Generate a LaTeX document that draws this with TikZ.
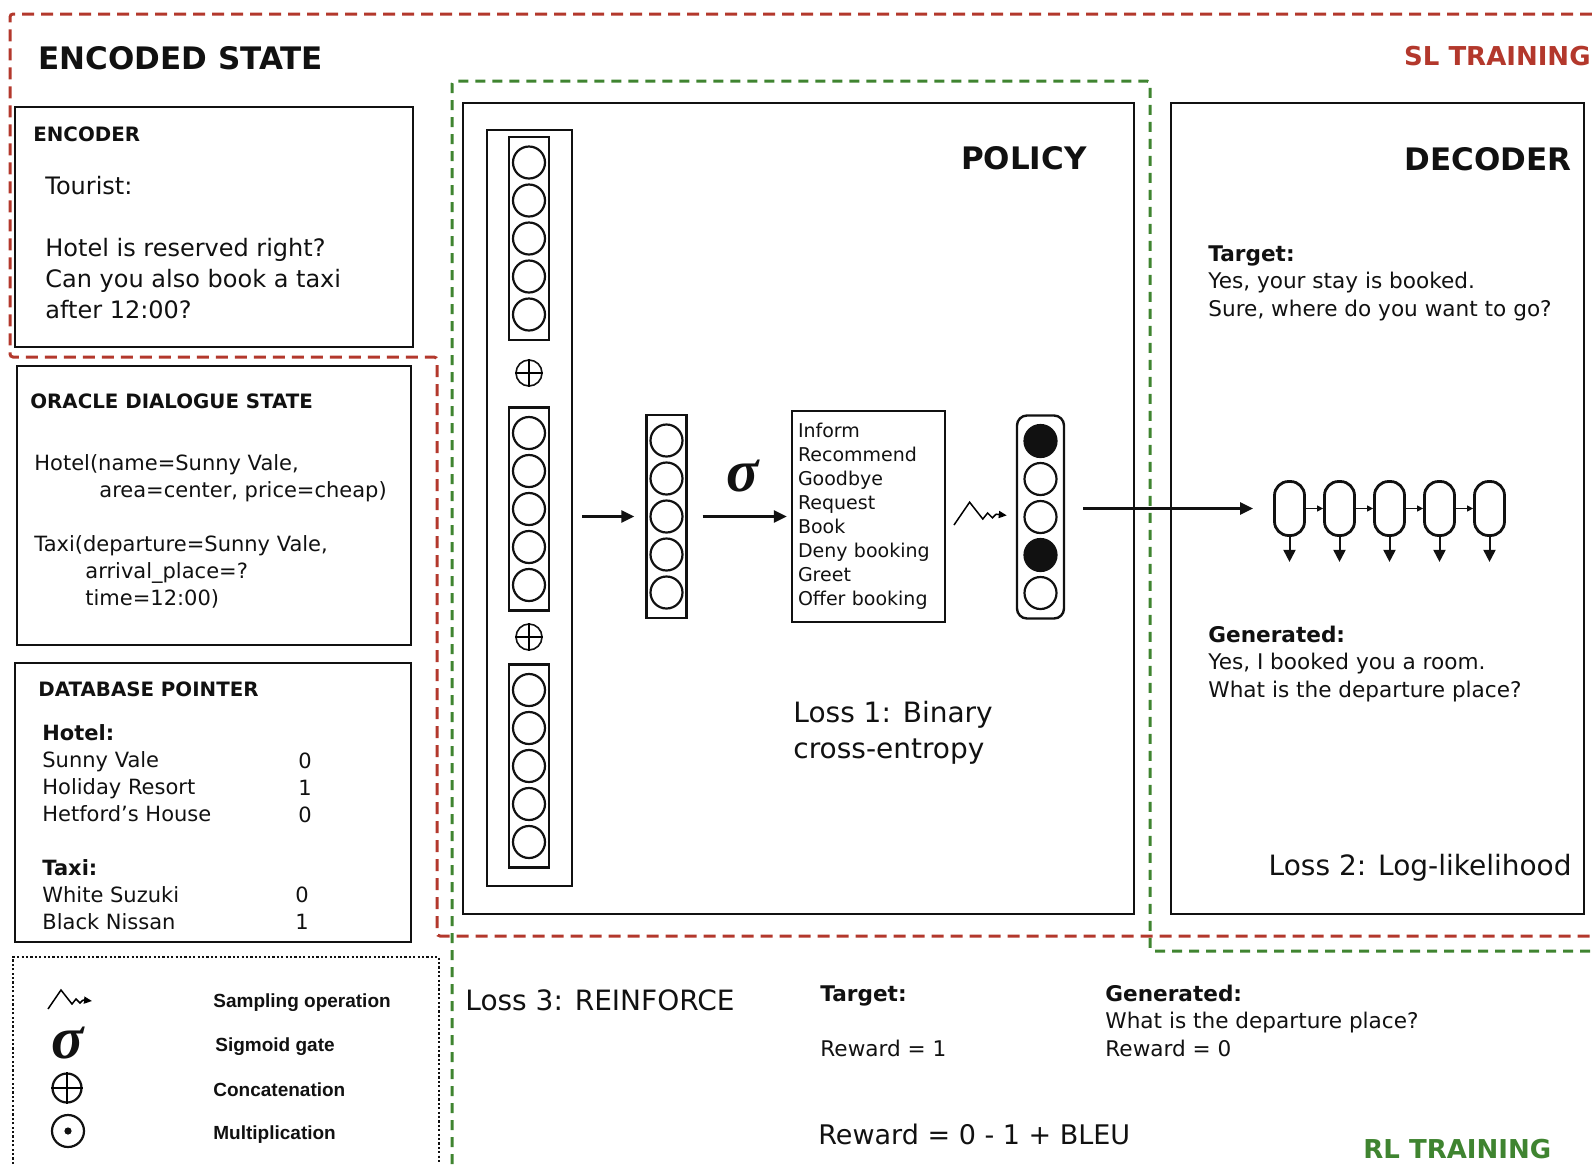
\documentclass[tikz,border=0pt]{standalone}
\usepackage{fontspec}
\setmainfont{DejaVu Sans}
\newfontfamily\keyfont{Liberation Sans}
\newfontfamily\greekfont{Liberation Serif}
\usetikzlibrary{arrows.meta,positioning,calc}
\definecolor{ink}{HTML}{111111}
\definecolor{slred}{HTML}{B3382C}
\definecolor{rlgreen}{HTML}{3F8430}
\tikzset{
  panel/.style={draw=ink, line width=1.4pt},
  sldash/.style={draw=slred, line width=1.5pt, dash pattern=on 6pt off 3.5pt, rounded corners=1.5pt},
  rldash/.style={draw=rlgreen, line width=1.5pt, dash pattern=on 5pt off 3.5pt, rounded corners=1.5pt},
  keyline/.style={draw=ink, line width=1.1pt, dash pattern=on 1.1pt off 1.1pt},
  heading/.style={inner sep=0, text=ink, font=\fontsize{15.5}{18}\selectfont\bfseries},
  tagline/.style={inner sep=0, font=\fontsize{13}{15}\selectfont\bfseries},
  boxtitle/.style={inner sep=0, anchor=base west, text=ink, font=\fontsize{9.9}{12}\selectfont\bfseries},
  bodytext/.style={inner sep=0, anchor=base west, align=left, text=ink, font=\fontsize{10.5}{13.5}\selectfont},
  saytext/.style={bodytext, font=\fontsize{10.8}{13.75}\selectfont},
  losstext/.style={inner sep=0, align=left, text=ink, font=\fontsize{14}{18}\selectfont},
  keytext/.style={inner sep=0, anchor=base west, text=ink, font=\keyfont\fontsize{9.5}{11}\selectfont\bfseries},
  sigma/.style={inner sep=0, text=ink, font=\greekfont\bfseries\itshape\fontsize{30}{30}\selectfont},
  vecbox/.style={draw=ink, line width=1.2pt, minimum width=20pt, minimum height=101.5pt, inner sep=0},
  unit/.style={circle, draw=ink, line width=1.1pt, minimum size=16pt, inner sep=0},
  fired/.style={unit, fill=ink},
  concat/.style={circle, draw=ink, line width=0.8pt, minimum size=13pt, inner sep=0},
  flowarrow/.style={-{Triangle[length=6.5pt,width=6pt]}, line width=1.3pt, draw=ink},
  linkarrow/.style={-{Triangle[length=3pt,width=3pt]}, line width=0.6pt, draw=ink},
  outarrow/.style={-{Triangle[length=6pt,width=6pt]}, line width=1pt, draw=ink},
  cellbox/.style={draw=ink, line width=1.4pt, rounded corners=7pt, minimum width=15pt, minimum height=27pt, inner sep=0},
  sampler/.pic={
    \draw[line width=0.75pt] (0,0) -- (13,-19) -- (24,-5) -- (28,-10) -- (32,-6) -- (35,-9);
    \draw[line width=0.75pt, -{Triangle[length=4pt,width=3.5pt]}] (35,-9) -- (44,-8);
  }
}

\begin{document}
\begin{tikzpicture}[x=0.5pt,y=-0.5pt]
  \useasboundingbox (0,0) rectangle (1592,1164);

  % training regions
  \draw[sldash] (1592,14) -- (10,14) -- (10,357) -- (437,357) -- (437,936) -- (1592,936);
  \draw[rldash] (452,1164) -- (452,81) -- (1150,81) -- (1150,951) -- (1592,951);
  \node[tagline, text=slred, anchor=base east] (sl) at (1591,65) {SL TRAINING};
  \node[tagline, text=rlgreen, anchor=base west] (rl) at (1363,1158) {RL TRAINING};

  % encoded state
  \node[heading, anchor=base west] (enc) at (38,69) {ENCODED STATE};
  \draw[panel] (15,107) rectangle (413,347);
  \node[boxtitle] (enct) at (33,141) {ENCODER};
  \node[bodytext, font=\fontsize{12}{15.5}\selectfont] (utt) at (45,318)
    {Tourist:\\[15.5pt]Hotel is reserved right?\\Can you also book a taxi\\after 12:00?};

  \draw[panel] (17,366) rectangle (411,645);
  \node[boxtitle] (orct) at (30,408) {ORACLE DIALOGUE STATE};
  \node[bodytext] (orc) at (34,605)
    {Hotel(name=Sunny Vale,\\\hspace*{32.5pt}area=center, price=cheap)\\[13.5pt]Taxi(departure=Sunny Vale,\\\hspace*{25.5pt}arrival\_place=?\\\hspace*{25.5pt}time=12:00)};

  \draw[panel] (15,663) rectangle (411,942);
  \node[boxtitle] (dbt) at (38,696) {DATABASE POINTER};
  \node[bodytext] (db) at (42,929)
    {\textbf{Hotel:}\\Sunny Vale\\Holiday Resort\\Hetford’s House\\[13.5pt]\textbf{Taxi:}\\White Suzuki\\Black Nissan};
  \node[bodytext, anchor=base, align=center] (dbh) at (305,822) {0\\1\\0};
  \node[bodytext, anchor=base, align=center] (dbx) at (302,929) {0\\1};

  % key
  \draw[keyline] (13,1164) -- (13,957) -- (439,957) -- (439,1164);
  \pic at (48,1009) {sampler};
  \node[sigma] (ksig) at (68,1043) {σ};
  \node[concat, line width=1.1pt, minimum size=14.5pt] (kcat) at (67,1088) {};
  \draw[line width=1.1pt] (kcat.north) -- (kcat.south) (kcat.west) -- (kcat.east);
  \node[concat, line width=1.1pt, minimum size=16pt] (kmul) at (68,1131) {};
  \fill[ink] (kmul.center) circle (1.8pt);
  \node[keytext] (k1) at (213,1007) {Sampling operation};
  \node[keytext] (k2) at (215,1051) {Sigmoid gate};
  \node[keytext] (k3) at (213,1096) {Concatenation};
  \node[keytext] (k4) at (213,1139) {Multiplication};

  % policy
  \draw[panel] (463,103) rectangle (1134,914);
  \node[heading, anchor=base east] (pol) at (1087,169) {POLICY};
  \node[draw=ink, line width=1.2pt, minimum width=42.5pt, minimum height=378pt, inner sep=0] (stack) at (529.5,508) {};
  \node[vecbox] (v1) at (529,238.5) {};
  \node[vecbox] (v2) at (529,509) {};
  \node[vecbox] (v3) at (529,766) {};
  \foreach \v in {v1,v2,v3}
    \foreach \k in {1,...,5}
      \node[unit] (\v-\k) at ($(\v)+(0,38*\k-114)$) {};
  \node[concat] (cat1) at (529,373) {};
  \node[concat] (cat2) at (529,637) {};
  \draw[line width=0.8pt] (cat1.north) -- (cat1.south) (cat1.west) -- (cat1.east);
  \draw[line width=0.8pt] (cat2.north) -- (cat2.south) (cat2.west) -- (cat2.east);

  \node[vecbox] (hid) at (666.5,516.5) {};
  \foreach \k in {1,...,5}
    \node[unit] (hid-\k) at ($(hid)+(0,38*\k-114)$) {};
  \node[sigma] (sig) at (743,476) {σ};
  \node[draw=ink, line width=1.2pt, text width=70.5pt, minimum height=105.5pt, inner xsep=3pt, inner ysep=0,
        align=left, text=ink, font=\fontsize{9.5}{12}\selectfont] (acts) at (868.5,516.5)
    {Inform\\Recommend\\Goodbye\\Request\\Book\\Deny booking\\Greet\\Offer booking};
  \pic[scale=1.2] at (954,525) {sampler};
  \node[vecbox, minimum width=23.5pt, rounded corners=5pt] (samp) at (1040.5,517) {};
  \foreach \k/\s in {1/fired,2/unit,3/unit,4/fired,5/unit}
    \node[\s] (samp-\k) at ($(samp)+(0,38*\k-114)$) {};
  \draw[flowarrow, shorten <=4.5pt, shorten >=5.5pt] (stack.east |- hid.west) -- (hid.west);
  \draw[flowarrow, shorten <=7.5pt, shorten >=2pt] (hid.east) -- (acts.west);
  \node[losstext, anchor=base west] (loss1) at (793,758) {Loss 1: Binary\\cross-entropy};

  % decoder
  \draw[panel] (1171,103) rectangle (1584,914);
  \node[heading, anchor=base east] (dec) at (1572,170) {DECODER};
  \node[saytext] (tgt) at (1208,316) {\textbf{Target:}\\Yes, your stay is booked.\\Sure, where do you want to go?};
  \node[saytext] (gen) at (1208,697) {\textbf{Generated:}\\Yes, I booked you a room.\\What is the departure place?};
  \node[losstext, anchor=base east] (loss2) at (1572,875) {Loss 2: Log-likelihood};
  \foreach \i in {1,...,5} {
    \node[cellbox] (c\i) at (1239.5+50*\i,508.5) {};
    \coordinate (o\i) at ($(c\i.south)+(0,25)$);
    \draw[outarrow] (c\i) -- (o\i);
  }
  \foreach \i/\j in {1/2,2/3,3/4,4/5}
    \draw[linkarrow] (c\i) -- (c\j);
  \draw[flowarrow, shorten <=9pt, shorten >=10pt] (samp.east |- c1.west) -- (c1.west);

  % reinforce
  \node[losstext, anchor=base west] (loss3) at (465,1010) {Loss 3: REINFORCE};
  \node[saytext] (rtgt) at (820,1056) {\textbf{Target:}\\[13.75pt]Reward = 1};
  \node[saytext] (rgen) at (1105,1056) {\textbf{Generated:}\\What is the departure place?\\Reward = 0};
  \node[losstext, font=\fontsize{13.5}{16}\selectfont, anchor=base west] (rew) at (818,1144) {Reward = 0 - 1 + BLEU};
\end{tikzpicture}
\end{document}
